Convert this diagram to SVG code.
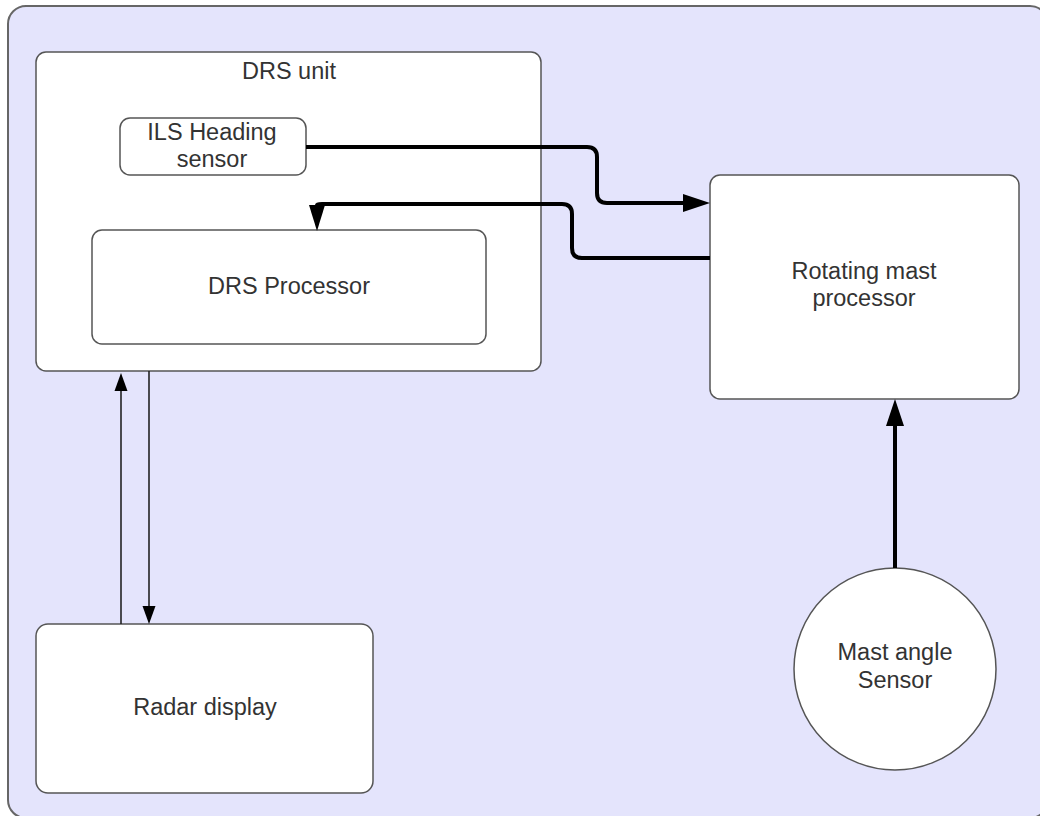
<svg xmlns="http://www.w3.org/2000/svg" width="1040" height="816" viewBox="0 0 1040 816">
  <style>
    .box { fill: #ffffff; stroke: #555555; stroke-width: 1.5; }
    .lbl { font-family: "Liberation Sans", Arial, sans-serif; font-size: 23.5px; fill: #333333; text-anchor: middle; }
    .thick { fill: none; stroke: #000000; stroke-width: 4; }
    .thin { fill: none; stroke: #222222; stroke-width: 1.6; }
  </style>
  <defs>
    <marker id="arrowBold" markerWidth="28" markerHeight="18" refX="0" refY="9" orient="auto" markerUnits="userSpaceOnUse" overflow="visible">
      <path d="M0,0 L27,9 L0,18 z" fill="#000000"/>
    </marker>
    <marker id="arrowNarrow" markerWidth="27" markerHeight="16" refX="0" refY="8" orient="auto" markerUnits="userSpaceOnUse" overflow="visible">
      <path d="M0,0 L26,8 L0,16 z" fill="#000000"/>
    </marker>
    <marker id="arrowThin" markerWidth="19" markerHeight="13" refX="0" refY="6.5" orient="auto" markerUnits="userSpaceOnUse" overflow="visible">
      <path d="M0,0 L18,6.5 L0,13 z" fill="#000000"/>
    </marker>
  </defs>

  <!-- system boundary -->
  <rect id="frame" x="8" y="6" width="1040" height="812" rx="18" fill="#e4e4fc" stroke="#666666" stroke-width="2"/>

  <g id="drs-unit">
    <rect class="box" x="36" y="52" width="505" height="319" rx="10"/>
    <text class="lbl" x="289" y="79">DRS unit</text>
  </g>

  <g id="ils-heading-sensor">
    <rect class="box" x="120" y="118" width="186" height="57" rx="10"/>
    <text class="lbl" x="212" y="140">ILS Heading</text>
    <text class="lbl" x="212" y="167">sensor</text>
  </g>

  <g id="drs-processor">
    <rect class="box" x="92" y="230" width="394" height="114" rx="10"/>
    <text class="lbl" x="289" y="294">DRS Processor</text>
  </g>

  <g id="rotating-mast-processor">
    <rect class="box" x="710" y="175" width="309" height="224" rx="10"/>
    <text class="lbl" x="864" y="279">Rotating mast</text>
    <text class="lbl" x="864" y="306">processor</text>
  </g>

  <g id="radar-display">
    <rect class="box" x="36" y="624" width="337" height="169" rx="12"/>
    <text class="lbl" x="205" y="715">Radar display</text>
  </g>

  <g id="mast-angle-sensor">
    <circle class="box" cx="895" cy="669" r="101"/>
    <text class="lbl" x="895" y="660">Mast angle</text>
    <text class="lbl" x="895" y="688">Sensor</text>
  </g>

  <g id="connectors">
    <!-- heading sensor to mast processor -->
    <path class="thick" d="M306,147 H587 Q597,147 597,157 V193 Q597,203 607,203 H683" marker-end="url(#arrowBold)"/>
    <!-- mast processor back to DRS processor -->
    <path class="thick" d="M710,258 H582 Q572,258 572,248 V214 Q572,204 562,204 H322 Q317,204 317,205" marker-end="url(#arrowNarrow)"/>
    <!-- radar display to DRS unit -->
    <path class="thin" d="M121,624 V391" marker-end="url(#arrowThin)"/>
    <!-- DRS unit to radar display -->
    <path class="thin" d="M149,371 V606" marker-end="url(#arrowThin)"/>
    <!-- mast angle sensor to mast processor -->
    <path class="thick" d="M895,568 V426" marker-end="url(#arrowBold)"/>
  </g>
</svg>
